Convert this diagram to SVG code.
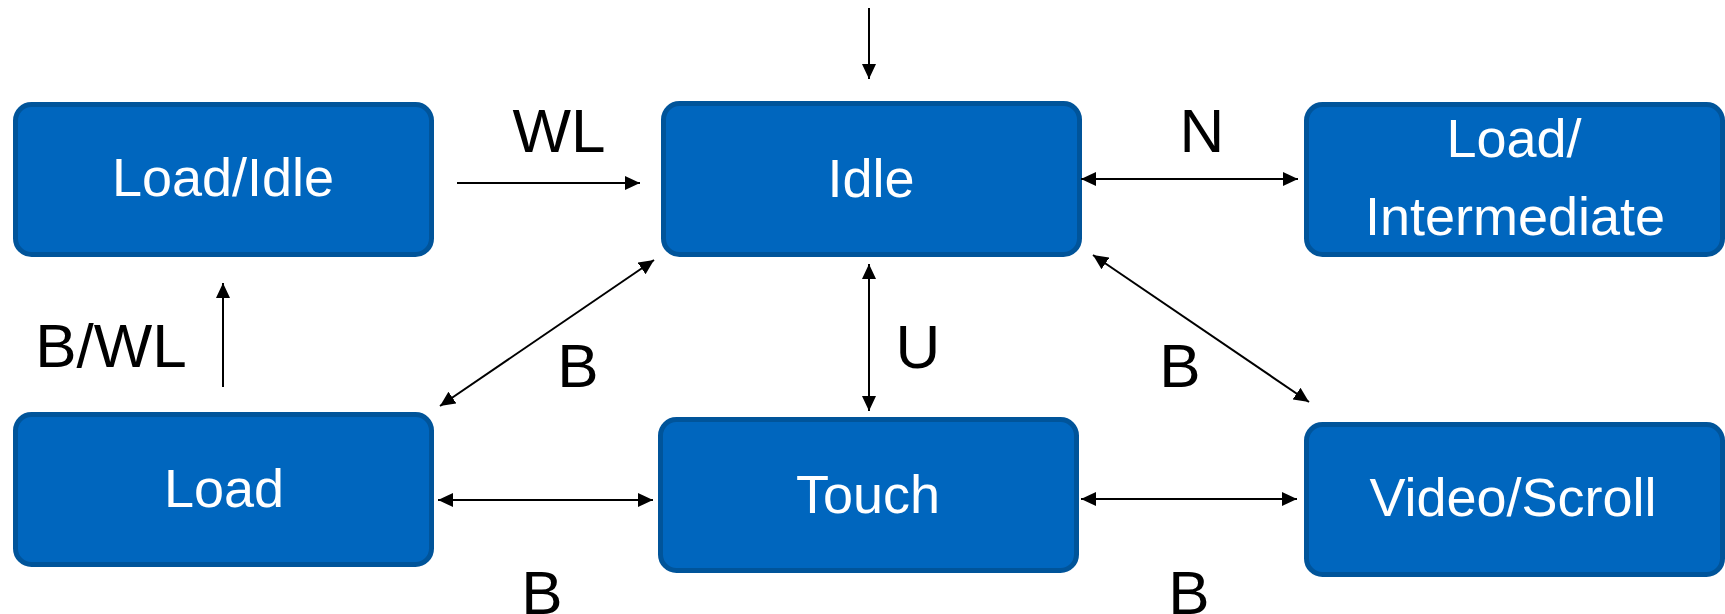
<svg xmlns="http://www.w3.org/2000/svg" width="1725" height="614" viewBox="0 0 1725 614">
<style>
.box{fill:#0066BE;stroke:#00549A;stroke-width:5}
.nt{font-family:"Liberation Sans",Arial,sans-serif;font-size:54px;fill:#FFFFFF;text-anchor:middle}
.lbl{font-family:"Liberation Sans",Arial,sans-serif;font-size:62px;fill:#000000;text-anchor:middle}
.ln{stroke:#000000;stroke-width:2;fill:none}
</style>
<defs>
<marker id="ah" viewBox="0 0 15 14" refX="15" refY="7" markerWidth="15" markerHeight="14" markerUnits="userSpaceOnUse" orient="auto-start-reverse">
<path d="M0,0 L15,7 L0,14 z" fill="#000000"/>
</marker>
</defs>
<rect width="1725" height="614" fill="#FFFFFF"/>
<g id="node-load-idle">
<rect class="box" x="15.5" y="104.5" width="416" height="150" rx="16"/>
<text class="nt" x="223" y="196">Load/Idle</text>
</g>
<g id="node-idle">
<rect class="box" x="663.5" y="103.5" width="416" height="151" rx="16"/>
<text class="nt" x="871" y="197">Idle</text>
</g>
<g id="node-load-intermediate">
<rect class="box" x="1306.5" y="104.5" width="416" height="150" rx="16"/>
<text class="nt" x="1514" y="157">Load/</text>
<text class="nt" x="1515" y="235">Intermediate</text>
</g>
<g id="node-load">
<rect class="box" x="15.5" y="414.5" width="416" height="150" rx="16"/>
<text class="nt" x="224" y="507">Load</text>
</g>
<g id="node-touch">
<rect class="box" x="660.5" y="419.5" width="416" height="151" rx="16"/>
<text class="nt" x="868" y="513">Touch</text>
</g>
<g id="node-video-scroll">
<rect class="box" x="1306.5" y="424.5" width="416" height="150" rx="16"/>
<text class="nt" x="1513" y="516">Video/Scroll</text>
</g>
<g id="connectors">
<line class="ln" x1="869" y1="8" x2="869" y2="79" marker-end="url(#ah)"/>
<line class="ln" x1="457" y1="183" x2="640" y2="183" marker-end="url(#ah)"/>
<line class="ln" x1="1081" y1="179" x2="1298" y2="179" marker-start="url(#ah)" marker-end="url(#ah)"/>
<line class="ln" x1="223" y1="387" x2="223" y2="283" marker-end="url(#ah)"/>
<line class="ln" x1="654" y1="260" x2="440" y2="406" marker-start="url(#ah)" marker-end="url(#ah)"/>
<line class="ln" x1="869" y1="264" x2="869" y2="411" marker-start="url(#ah)" marker-end="url(#ah)"/>
<line class="ln" x1="1093" y1="255" x2="1309" y2="402" marker-start="url(#ah)" marker-end="url(#ah)"/>
<line class="ln" x1="438" y1="500" x2="653" y2="500" marker-start="url(#ah)" marker-end="url(#ah)"/>
<line class="ln" x1="1081" y1="499" x2="1297" y2="499" marker-start="url(#ah)" marker-end="url(#ah)"/>
<text class="lbl" x="559" y="152">WL</text>
<text class="lbl" x="1202" y="152">N</text>
<text class="lbl" x="111" y="367">B/WL</text>
<text class="lbl" x="578" y="387">B</text>
<text class="lbl" x="918" y="368">U</text>
<text class="lbl" x="1180" y="387">B</text>
<text class="lbl" x="542" y="614">B</text>
<text class="lbl" x="1189" y="614">B</text>
</g>
</svg>
